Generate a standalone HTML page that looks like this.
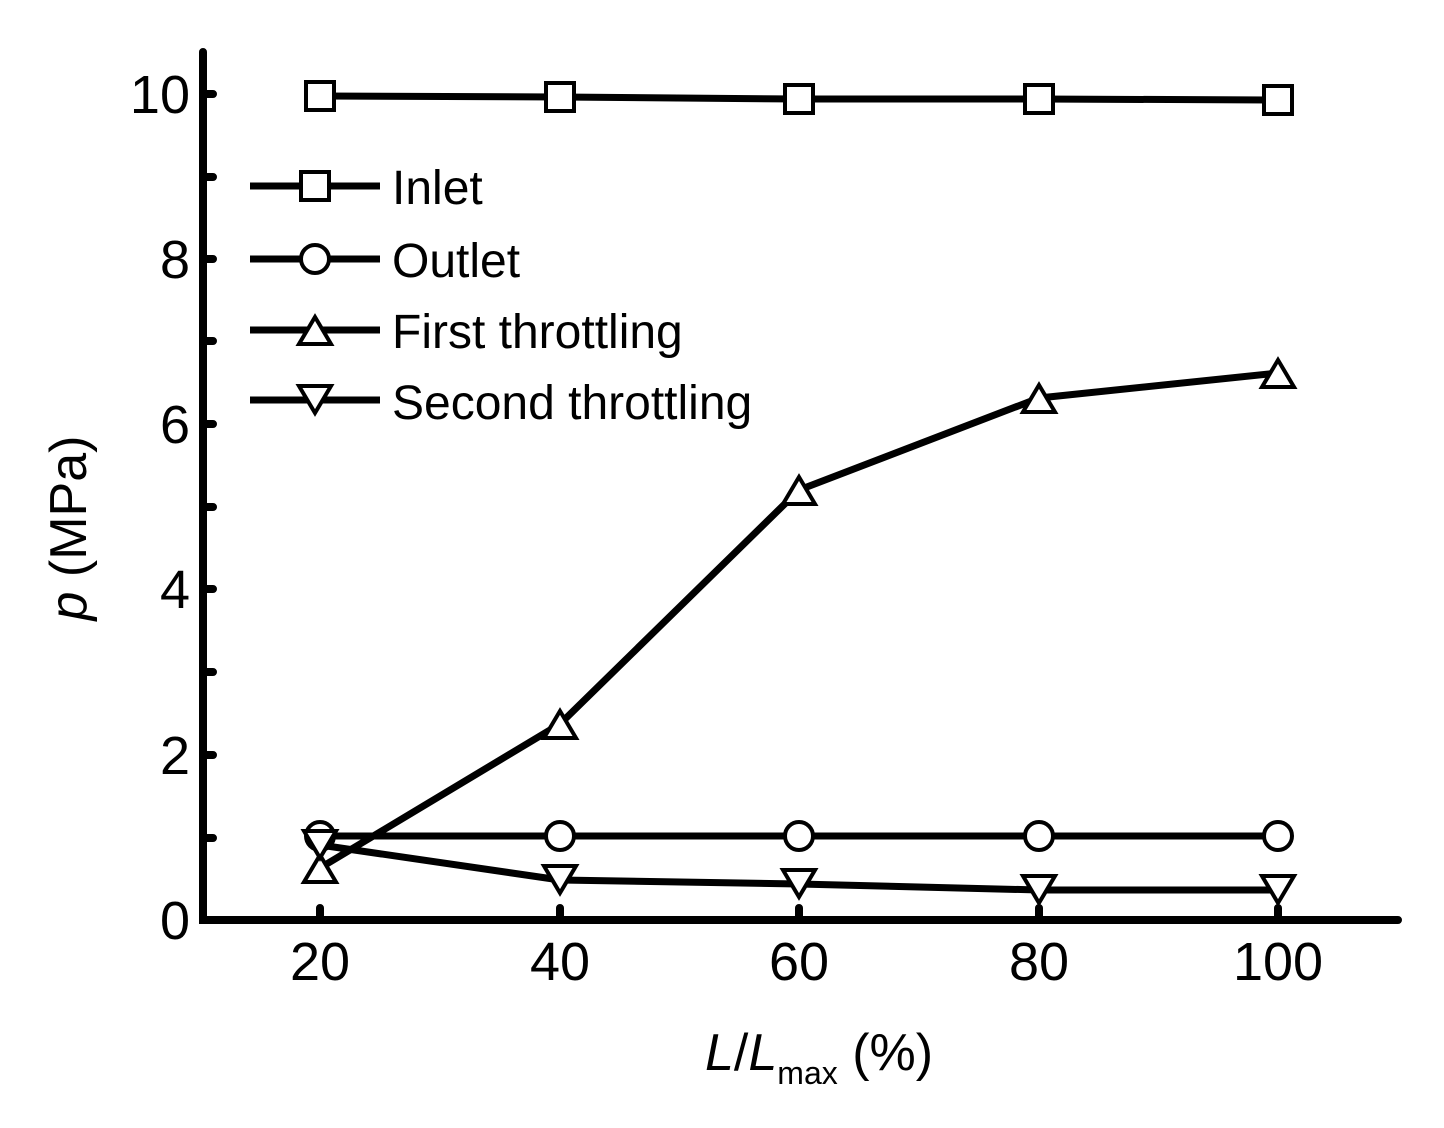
<!DOCTYPE html>
<html><head><meta charset="utf-8"><style>body{margin:0;background:#fff}svg{display:block}</style></head><body>
<svg width="1444" height="1128" viewBox="0 0 1444 1128" xmlns="http://www.w3.org/2000/svg" font-family="Liberation Sans, Arial, sans-serif">
<g stroke="#000" stroke-width="8" fill="none" stroke-linecap="round">
<path d="M203 52 V920 H1398"/>
<path d="M203 94h10M203 177h10M203 259h10M203 341h10M203 424h10M203 507h10M203 589h10M203 672h10M203 755h10M203 838h10"/>
<path d="M320 920v-12M560 920v-12M799 920v-12M1039 920v-12M1278 920v-12"/>
</g>
<g font-size="54" text-anchor="end">
<text x="190" y="113">10</text><text x="190" y="278">8</text><text x="190" y="443">6</text><text x="190" y="608">4</text><text x="190" y="774">2</text><text x="190" y="939">0</text>
</g>
<g font-size="54" text-anchor="middle">
<text x="320" y="980">20</text><text x="560" y="980">40</text><text x="799" y="980">60</text><text x="1039" y="980">80</text><text x="1278" y="980">100</text>
</g>
<text transform="translate(86,528) rotate(-90)" font-size="52" text-anchor="middle"><tspan font-style="italic">p</tspan> (MPa)</text>
<text x="705" y="1070" font-size="52"><tspan font-style="italic">L</tspan>/<tspan font-style="italic">L</tspan><tspan font-size="32" dy="14">max</tspan><tspan dy="-14"> (%)</tspan></text>
<g stroke="#000" stroke-width="7" fill="none" stroke-linejoin="round">
<polyline points="320,96 560,97 799,99 1039,99 1278,100"/>
<polyline points="320,836 560,836 799,836 1039,836 1278,836"/>
<polyline points="320,868 560,724 799,490 1039,398 1278,373"/>
<polyline points="320,845 560,880 799,884 1039,890 1278,890"/>
<path d="M250 186H380M250 259H380M250 330H380M250 400H380"/>
</g>
<g stroke="#000" stroke-width="4" fill="#fff">
<rect x="306" y="82" width="28" height="28"/><rect x="546" y="83" width="28" height="28"/><rect x="785" y="85" width="28" height="28"/><rect x="1025" y="85" width="28" height="28"/><rect x="1264" y="86" width="28" height="28"/>
<rect x="301" y="172" width="28" height="28"/>
<circle cx="320" cy="836" r="14"/><circle cx="560" cy="836" r="14"/><circle cx="799" cy="836" r="14"/><circle cx="1039" cy="836" r="14"/><circle cx="1278" cy="836" r="14"/>
<circle cx="315" cy="259" r="14"/>
<path d="M320 855l-16 27h32z"/><path d="M560 711l-16 27h32z"/><path d="M799 477l-16 27h32z"/><path d="M1039 385l-16 27h32z"/><path d="M1278 360l-16 27h32z"/>
<path d="M315 317l-16 27h32z"/>
<path d="M320 858l-16-27h32z"/><path d="M560 893l-16-27h32z"/><path d="M799 897l-16-27h32z"/><path d="M1039 903l-16-27h32z"/><path d="M1278 903l-16-27h32z"/>
<path d="M315 413l-16-27h32z"/>
</g>
<g font-size="48">
<text x="392" y="204">Inlet</text><text x="392" y="277">Outlet</text><text x="392" y="348">First throttling</text><text x="392" y="419">Second throttling</text>
</g>
</svg>
</body></html>
